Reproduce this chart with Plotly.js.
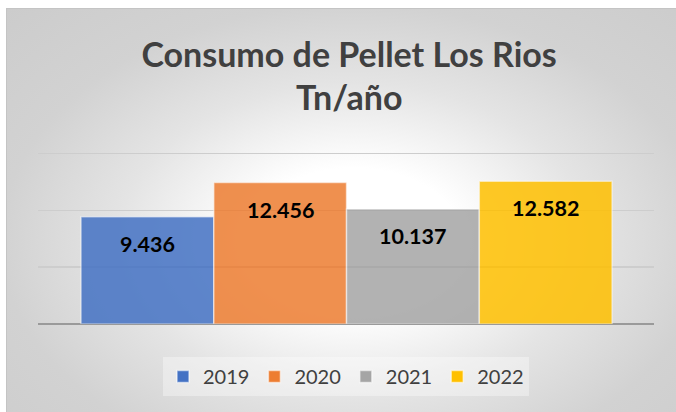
<!DOCTYPE html>
<html>
<head>
<meta charset="utf-8">
<script src="https://cdn.plot.ly/plotly-3.0.1.min.js"></script>
<style>
  html, body { margin: 0; padding: 0; background: #ffffff; width: 676px; height: 412px; overflow: hidden; }
  #bg { position: absolute; left: 6px; top: 8px; width: 680px; height: 420px;
        border-left: 1px solid #c4c4c4; border-top: 1px solid #c4c4c4;
        background: radial-gradient(ellipse at 51% 55%, #ffffff 0%, #ffffff 22%, #e4e4e4 48%, #d2d2d2 72%, #cccccc 100%); }
  #chart { position: absolute; left: 0; top: 0; width: 676px; height: 412px; }
</style>
</head>
<body>
<div id="bg"></div>
<div id="chart"></div>
<script>
const titleLine1 = "Consumo de Pellet Los Rios";
const titleLine2 = "Tn/año";
const years = ["2019", "2020", "2021", "2022"];
const consumo = [9436, 12456, 10137, 12582];
const colors = ["#4472C4", "#ED7D31", "#A5A5A5", "#FFC000"];

const fontFam = "Lato, 'Open Sans', sans-serif";

const traces = years.map((yr, i) => ({
  type: "bar",
  name: yr,
  x: [i],
  y: [consumo[i]],
  width: 1,
  marker: { color: colors[i], opacity: 0.85, line: { color: "rgba(255,255,255,0.55)", width: 1.5 } },
  hoverinfo: "name+y"
}));

const labelAnnotations = years.map((yr, i) => ({
  x: i, y: consumo[i], xref: "x", yref: "y",
  text: consumo[i].toLocaleString("de-DE"),
  showarrow: false, yanchor: "middle", yshift: -27,
  font: { family: fontFam, size: 21.5, color: "#000000", weight: "bold" }
}));

const layout = {
  width: 676, height: 412,
  margin: { l: 38, r: 22, t: 152, b: 88 },
  paper_bgcolor: "rgba(0,0,0,0)",
  plot_bgcolor: "rgba(0,0,0,0)",
  showlegend: true,
  title: {
    text: "<b>" + titleLine1 + "</b>",
    x: 0.505, xanchor: "center", xref: "paper",
    y: 1 - 55 / 412, yanchor: "middle", yref: "container",
    font: { family: fontFam, size: 34, color: "#404040" }
  },
  xaxis: {
    range: [-0.824, 3.816], showticklabels: false, showgrid: false,
    zeroline: false, showline: false, ticks: "", fixedrange: true
  },
  yaxis: {
    range: [0, 15150], dtick: 5000, tick0: 0, showticklabels: false,
    showgrid: true, gridcolor: "#cdcdcd", gridwidth: 1.5,
    zeroline: true, zerolinecolor: "#9a9a9a", zerolinewidth: 1.5,
    ticks: "", fixedrange: true
  },
  legend: {
    orientation: "h", x: 0.5, xanchor: "center", y: -0.305, yanchor: "middle",
    bgcolor: "rgba(255,255,255,0.35)",
    font: { family: fontFam, size: 20, color: "#404040" },
    traceorder: "normal"
  },
  annotations: [
    {
      xref: "paper", yref: "paper", x: 0.505, y: (324 - 96) / 172,
      text: "<b>" + titleLine2 + "</b>", showarrow: false, yanchor: "middle",
      font: { family: fontFam, size: 34, color: "#404040" }
    }
  ].concat(labelAnnotations)
};

Plotly.newPlot("chart", traces, layout, { displayModeBar: false, staticPlot: true });
</script>
</body>
</html>
